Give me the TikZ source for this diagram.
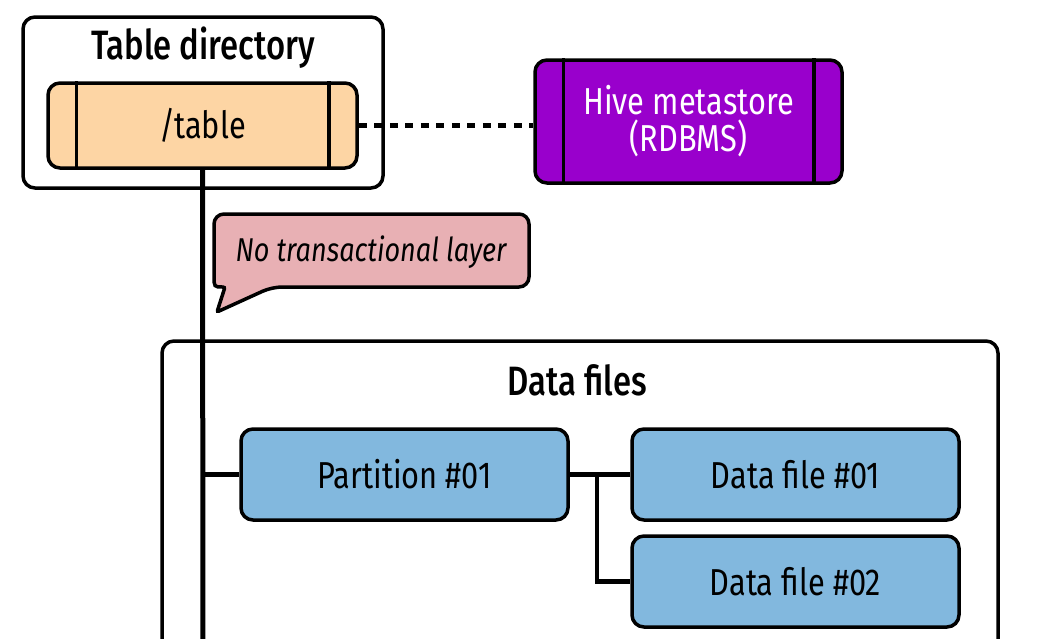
\documentclass[tikz,border=0pt]{standalone}
\usepackage{fontspec}
\setmainfont{Fira Sans}[FakeStretch=0.82]
\newfontfamily\medfont{Fira Sans Medium}[FakeStretch=0.8]
\definecolor{orangefill}{HTML}{FDD5A4}
\definecolor{hivefill}{HTML}{9900CC}
\definecolor{pinkfill}{HTML}{E8B0B4}
\definecolor{bluefill}{HTML}{82B8DE}
\begin{document}
\begin{tikzpicture}[x=1pt,y=-1pt,
  box/.style={draw, line width=3.5pt, rounded corners=12pt, inner sep=0pt},
  lbl/.style={font=\fontsize{37.5}{37}\selectfont},
  ttl/.style={font=\medfont\fontsize{41}{42}\selectfont},
  conn/.style={line width=4.5pt},
  trunk/.style={line width=5pt},
  dotline/.style={line width=4.5pt, dash pattern=on 8pt off 7.5pt},
  bar/.style={line width=3.5pt}]
\clip (0,0) rectangle (1037,638);
\useasboundingbox (0,0) rectangle (1037,638);
% Table directory
\node[box, minimum width=360pt, minimum height=171pt] (dir) at (203,102.5) {};
\node[ttl] (dirt) at (203,48) {Table directory};
\node[box, fill=orangefill, minimum width=309pt, minimum height=85pt, lbl] (tbl) at (202.5,125.5) {/table};
\draw[bar] ([xshift=30pt]tbl.north west) -- ([xshift=30pt]tbl.south west);
\draw[bar] ([xshift=-30pt]tbl.north east) -- ([xshift=-30pt]tbl.south east);
% Hive metastore
\node[box, fill=hivefill, minimum width=307pt, minimum height=123pt, text=white, align=center, lbl] (hive) at (688.5,121.5) {Hive metastore\\(RDBMS)};
\draw[bar] ([xshift=30pt]hive.north west) -- ([xshift=30pt]hive.south west);
\draw[bar] ([xshift=-30pt]hive.north east) -- ([xshift=-30pt]hive.south east);
\draw[dotline] (tbl.east) -- (tbl.east -| hive.west);
% Speech bubble
\draw[line width=3.5pt, fill=pinkfill]
  (225,287) .. controls (214,287) and (214,287) .. (214,276)
  [rounded corners=10pt] -- (214,214) -- (529,214) -- (529,287) -- (272,287)
  [rounded corners=2pt] -- (217,312) -- cycle;
\node[font=\fontsize{33}{36}\selectfont\itshape] (note) at (371,252) {No transactional layer};
% Data files container
\coordinate (dfbl) at (162,670);
\coordinate (dfbr) at (998,670);
\draw[line width=3.5pt, rounded corners=12pt] (dfbl) -- (162,341) -- (998,341) -- (dfbr);
\node[ttl] (dft) at (577,380) {Data files};
\node[box, fill=bluefill, minimum width=327pt, minimum height=91pt, lbl] (part) at (404.5,474.5) {Partition \#01};
\node[box, fill=bluefill, minimum width=327pt, minimum height=91pt, lbl] (df1) at (795.5,474.5) {Data file \#01};
\node[box, fill=bluefill, minimum width=327pt, minimum height=91pt, lbl] (df2) at (795.5,581.5) {Data file \#02};
% Connectors
\coordinate (trunkend) at (203,670);
\draw[trunk] (tbl.south) -- (trunkend);
\draw[conn] (tbl.south |- part.west) -- (part.west);
\draw[conn] (part.east) -- (df1.west);
\coordinate (br) at (597,474.5);
\draw[conn] (br) |- (df2.west);
\end{tikzpicture}
\end{document}
